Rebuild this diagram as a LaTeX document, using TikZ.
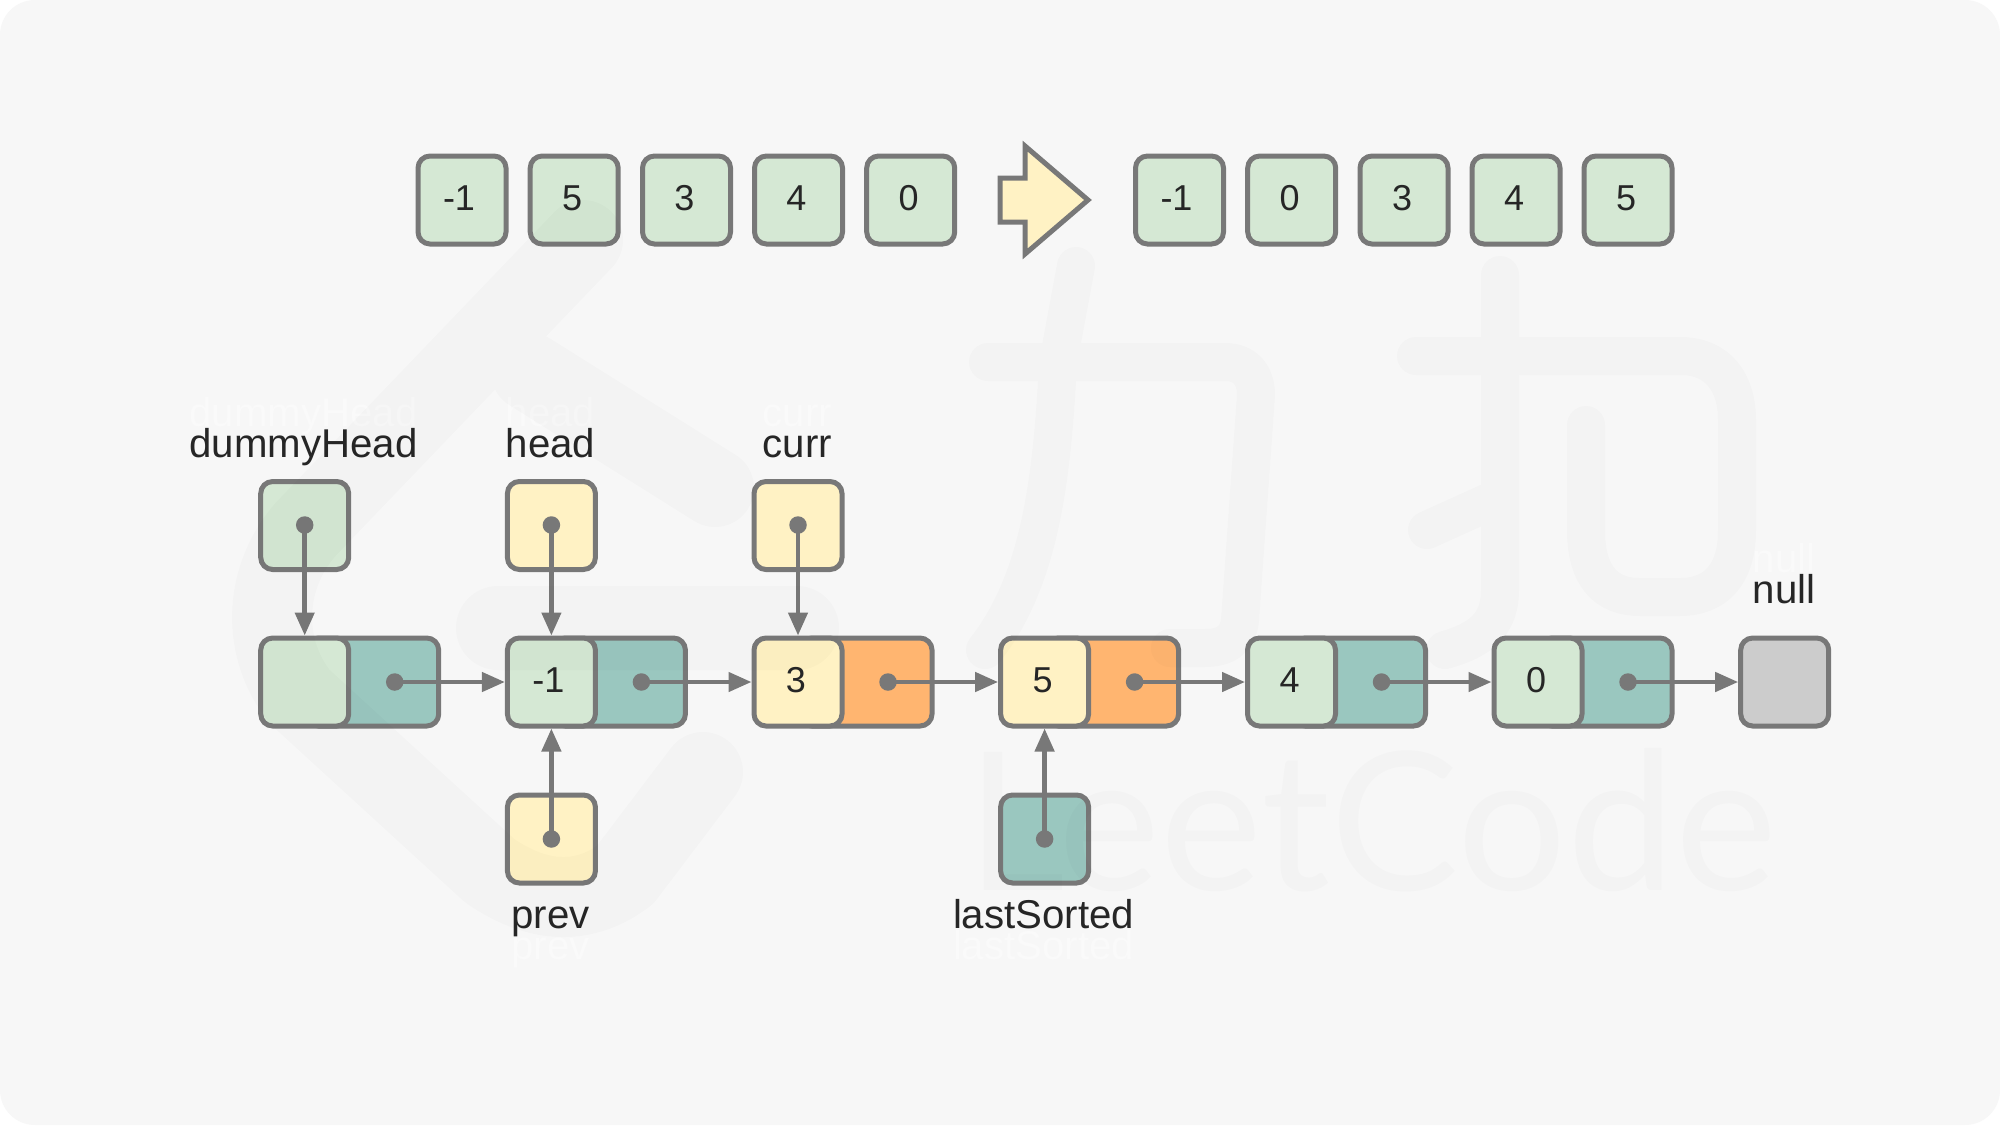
\documentclass[tikz,border=0pt]{standalone}
\usepackage{fontspec}
\setmainfont{Liberation Sans}
\newfontfamily\wmfont{Lato}
\usetikzlibrary{arrows.meta}
\definecolor{bgc}{HTML}{F7F7F7}
\definecolor{edgec}{HTML}{787878}
\definecolor{greenc}{HTML}{D5E8D4}
\definecolor{tealc}{HTML}{9AC7BF}
\definecolor{yellowc}{HTML}{FFF2C4}
\definecolor{orangec}{HTML}{FFB570}
\definecolor{grayc}{HTML}{CCCCCC}
\definecolor{inkc}{HTML}{262626}
\definecolor{ghostc}{HTML}{FAFAFA}
\tikzset{
  cellbox/.style={draw=edgec,line width=5pt,rounded corners=12pt,minimum width=88pt,minimum height=88pt,inner sep=0pt,text=inkc,
    font=\fontsize{36}{40}\selectfont,text height=21.4pt,text depth=0pt},
  nextbox/.style={draw=edgec,line width=5pt,rounded corners=12pt,minimum width=132pt,minimum height=88pt,inner sep=0pt},
  dotmark/.style={circle,fill=edgec,inner sep=0pt,minimum size=17.5pt},
  link/.style={draw=edgec,line width=4.5pt,-{Triangle[length=23pt,width=19pt]}},
  lbl/.style={anchor=base,text=inkc,inner sep=0pt,font=\fontsize{40.2}{48}\selectfont},
  ghost/.style={anchor=base,text=ghostc,inner sep=0pt,font=\fontsize{40.2}{48}\selectfont},
  wmstroke/.style={draw=black,line cap=round,line join=round},
}
\newcommand{\shA}[1]{#1\kern6pt}
\newcommand{\shB}[1]{#1\kern4pt}
\begin{document}
\begin{tikzpicture}[x=1pt,y=-1pt]
\useasboundingbox (0,0) rectangle (2000,1125);
\fill[white] (0,0) rectangle (2000,1125);
\fill[bgc,rounded corners=35pt] (0,0) rectangle (2000,1125);

% top arrays
\node[cellbox,fill=greenc] (a1) at (462,200) {\shA{-1}};
\node[cellbox,fill=greenc] (a2) at (574.2,200) {\shB{5}};
\node[cellbox,fill=greenc] (a3) at (686.5,200) {\shB{3}};
\node[cellbox,fill=greenc] (a4) at (798.5,200) {\shB{4}};
\node[cellbox,fill=greenc] (a5) at (910.7,200) {\shB{0}};
\coordinate (bigA) at (1000,178);
\draw[draw=edgec,fill=yellowc,line width=5pt,miter limit=10]
  (bigA) -- (1025,178) -- (1025,146) -- (1088,200) -- (1025,254) -- (1025,222) -- (1000,222) -- cycle;
\node[cellbox,fill=greenc] (b1) at (1179.5,200) {\shA{-1}};
\node[cellbox,fill=greenc] (b2) at (1291.7,200) {\shB{0}};
\node[cellbox,fill=greenc] (b3) at (1404,200) {\shB{3}};
\node[cellbox,fill=greenc] (b4) at (1516,200) {\shB{4}};
\node[cellbox,fill=greenc] (b5) at (1628,200) {\shB{5}};

% ghost labels
\node[ghost] (g1) at (303.5,426) {dummyHead};
\node[ghost] (g2) at (550.5,426) {head};
\node[ghost] (g3) at (797.5,426) {curr};
\node[ghost] (g4) at (1784,572) {null};
\node[ghost] (g5) at (550.5,959) {prev};
\node[ghost] (g6) at (1043.5,959) {lastSorted};

% labels
\node[lbl] (l1) at (303.5,457) {dummyHead};
\node[lbl] (l2) at (550.5,457) {head};
\node[lbl] (l3) at (797.5,457) {curr};
\node[lbl] (l4) at (1784,603) {null};
\node[lbl] (l5) at (550.5,928) {prev};
\node[lbl] (l6) at (1043.5,928) {lastSorted};

% pointer boxes
\node[cellbox,fill=greenc] (p1) at (304.7,525.5) {};
\node[cellbox,fill=yellowc] (p2) at (551.4,525.5) {};
\node[cellbox,fill=yellowc] (p3) at (798,525.5) {};
\node[cellbox,fill=yellowc] (p4) at (551.4,839) {};
\node[cellbox,fill=tealc] (p5) at (1044.6,839) {};

% list nodes: next cells
\node[nextbox,fill=tealc] (x1) at (372.7,682) {};
\node[nextbox,fill=tealc] (x2) at (619.4,682) {};
\node[nextbox,fill=orangec] (x3) at (866,682) {};
\node[nextbox,fill=orangec] (x4) at (1112.6,682) {};
\node[nextbox,fill=tealc] (x5) at (1359.5,682) {};
\node[nextbox,fill=tealc] (x6) at (1606,682) {};
% list nodes: value cells
\node[cellbox,fill=greenc] (n1) at (304.7,682) {};
\node[cellbox,fill=greenc] (n2) at (551.4,682) {\shA{-1}};
\node[cellbox,fill=yellowc] (n3) at (798,682) {\shB{3}};
\node[cellbox,fill=yellowc] (n4) at (1044.6,682) {\shB{5}};
\node[cellbox,fill=greenc] (n5) at (1291.5,682) {\shB{4}};
\node[cellbox,fill=greenc] (n6) at (1538,682) {\shB{0}};
\node[cellbox,fill=grayc] (n7) at (1784.7,682) {};

% dots
\node[dotmark] (d1) at (394.7,682) {};
\node[dotmark] (d2) at (641.4,682) {};
\node[dotmark] (d3) at (888,682) {};
\node[dotmark] (d4) at (1134.6,682) {};
\node[dotmark] (d5) at (1381.5,682) {};
\node[dotmark] (d6) at (1628,682) {};
\node[dotmark] (q1) at (304.7,525) {};
\node[dotmark] (q2) at (551.4,525) {};
\node[dotmark] (q3) at (798,525) {};
\node[dotmark] (q4) at (551.4,839) {};
\node[dotmark] (q5) at (1044.6,839) {};

% connectors
\draw[link] (d1.center) -- (n2.west);
\draw[link] (d2.center) -- (n3.west);
\draw[link] (d3.center) -- (n4.west);
\draw[link] (d4.center) -- (n5.west);
\draw[link] (d5.center) -- (n6.west);
\draw[link] (d6.center) -- (n7.west);
\draw[link] (q1.center) -- (n1.north);
\draw[link] (q2.center) -- (n2.north);
\draw[link] (q3.center) -- (n3.north);
\draw[link] (q4.center) -- (n2.south);
\draw[link] (q5.center) -- (n4.south);

% watermark, faintly over everything
\begin{scope}[opacity=.016,transparency group]
  % logo
  \draw[wmstroke,line width=80pt] (583,240) -- (305,530) .. controls (262,580) and (262,650) .. (300,697) -- (490,871) .. controls (540,905) and (585,905) .. (625,875) -- (703,772);
  \draw[wmstroke,line width=78pt] (530,372) -- (715,488);
  \draw[wmstroke,line width=84pt] (498,628) -- (797,628);
  % li
  \draw[wmstroke,line width=38pt] (1076,266) -- (1058,363) .. controls (1052,480) and (1040,580) .. (985,650);
  \draw[wmstroke,line width=38pt] (988,362) -- (1225,362) .. controls (1245,362) and (1256,375) .. (1256,395) -- (1240,620) .. controls (1238,640) and (1225,648) .. (1205,648) -- (1170,648);
  % kou
  \draw[wmstroke,line width=38pt] (1500,275) -- (1500,590) .. controls (1500,625) and (1480,640) .. (1445,650);
  \draw[wmstroke,line width=38pt] (1500,497) -- (1427,530);
  \draw[wmstroke,line width=38pt] (1416,356) -- (1680,356) .. controls (1720,356) and (1737,385) .. (1737,420) -- (1737,530) .. controls (1737,575) and (1715,597) .. (1680,597) -- (1640,597) .. controls (1605,597) and (1586,575) .. (1586,530) -- (1586,425);
  \node[anchor=base west,inner sep=0pt,text=black,font=\wmfont\fontsize{193}{200}\selectfont] (wm) at (966,890) {LeetCode};
\end{scope}
\end{tikzpicture}
\end{document}
